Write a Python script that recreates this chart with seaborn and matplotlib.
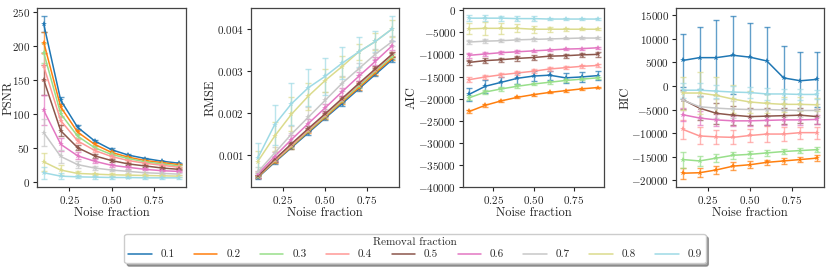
import numpy as np
import pandas as pd
import seaborn as sns
import matplotlib.pyplot as plt
from matplotlib.ticker import MultipleLocator

noise = [0.1, 0.2, 0.3, 0.4, 0.5, 0.6, 0.7, 0.8, 0.9]
removal = [0.1, 0.2, 0.3, 0.4, 0.5, 0.6, 0.7, 0.8, 0.9]

# PSNR mean / err per removal fraction
psnr = [
    [232, 120, 80, 60, 47, 39, 34, 30, 27],
    [205, 110, 73, 55, 43, 36, 31, 28, 25],
    [190, 100, 67, 50, 40, 34, 29, 26, 23],
    [170, 90, 60, 46, 37, 31, 27, 24, 21],
    [150, 75, 50, 38, 31, 26, 23, 20, 18],
    [105, 55, 38, 30, 24, 21, 18, 16, 15],
    [72, 37, 25, 20, 17, 15, 13, 12, 11],
    [29, 17, 12, 11, 10, 9.5, 9, 8.5, 8],
    [13, 8, 7, 6.5, 6, 6, 5.5, 5.5, 5.5],
]
psnr_err = [
    [12, 5, 3, 2, 2, 1.5, 1, 1, 1],
    [16, 5, 3, 2, 2, 1.5, 1, 1, 1],
    [15, 5, 3, 2, 2, 1.5, 1, 1, 1],
    [20, 6, 3, 2, 2, 1.5, 1, 1, 1],
    [22, 8, 4, 3, 2, 1.5, 1, 1, 1],
    [22, 10, 5, 3, 2, 2, 1.5, 1, 1],
    [20, 10, 5, 3, 2, 2, 1.5, 1, 1],
    [13, 8, 4, 2, 2, 1.5, 1, 1, 1],
    [9, 4, 2, 2, 1.5, 1, 1, 1, 1],
]

rmse = [
    [0.00047, 0.00083, 0.00118, 0.00153, 0.00188, 0.00222, 0.00257, 0.00292, 0.00327],
    [0.00048, 0.00085, 0.00120, 0.00156, 0.00190, 0.00226, 0.00260, 0.00296, 0.00330],
    [0.00049, 0.00087, 0.00122, 0.00158, 0.00193, 0.00229, 0.00264, 0.00300, 0.00334],
    [0.00050, 0.00088, 0.00124, 0.00160, 0.00196, 0.00232, 0.00268, 0.00303, 0.00339],
    [0.00050, 0.00090, 0.00127, 0.00163, 0.00198, 0.00234, 0.00270, 0.00305, 0.00340],
    [0.00055, 0.00097, 0.00137, 0.00175, 0.00212, 0.00250, 0.00287, 0.00323, 0.00360],
    [0.00060, 0.00105, 0.00150, 0.00190, 0.00230, 0.00270, 0.00305, 0.00340, 0.00370],
    [0.00085, 0.00145, 0.00197, 0.00240, 0.00277, 0.00310, 0.00345, 0.00370, 0.00400],
    [0.00093, 0.00172, 0.00222, 0.00260, 0.00287, 0.00318, 0.00345, 0.00370, 0.00400],
]
rmse_err = [
    [0.00003, 0.00003, 0.00004, 0.00004, 0.00004, 0.00005, 0.00005, 0.00005, 0.00005],
    [0.00003, 0.00003, 0.00004, 0.00004, 0.00004, 0.00005, 0.00005, 0.00005, 0.00005],
    [0.00003, 0.00004, 0.00004, 0.00004, 0.00005, 0.00005, 0.00005, 0.00005, 0.00005],
    [0.00004, 0.00004, 0.00005, 0.00005, 0.00005, 0.00006, 0.00006, 0.00006, 0.00006],
    [0.00004, 0.00005, 0.00005, 0.00006, 0.00006, 0.00006, 0.00006, 0.00006, 0.00006],
    [0.00008, 0.00010, 0.00010, 0.00010, 0.00010, 0.00010, 0.00010, 0.00010, 0.00010],
    [0.00012, 0.00015, 0.00020, 0.00025, 0.00020, 0.00018, 0.00015, 0.00012, 0.00012],
    [0.00025, 0.00035, 0.00040, 0.00032, 0.00027, 0.00025, 0.00020, 0.00020, 0.00020],
    [0.00035, 0.00048, 0.00050, 0.00044, 0.00044, 0.00038, 0.00035, 0.00025, 0.00030],
]

aic = [
    [-19000, -17200, -16300, -15400, -14900, -14700, -15300, -15100, -14800],
    [-22900, -21500, -20500, -19700, -19100, -18600, -18200, -17800, -17500],
    [-19800, -18500, -17800, -17200, -16700, -16300, -15900, -15600, -15300],
    [-15700, -15100, -14600, -14200, -13800, -13300, -13000, -12700, -12500],
    [-11800, -11400, -11200, -10900, -10700, -10400, -10300, -10100, -10000],
    [-10200, -9900, -9600, -9400, -9200, -9000, -8800, -8700, -8500],
    [-7200, -7000, -6900, -6700, -6600, -6500, -6400, -6300, -6300],
    [-4200, -4100, -4100, -4100, -4300, -4300, -4300, -4300, -4300],
    [-1800, -1800, -1800, -1900, -1900, -2000, -2000, -2000, -2000],
]
aic_err = [
    [1500, 1500, 1300, 1200, 1200, 1000, 1200, 1200, 1000],
    [300, 300, 250, 250, 200, 200, 200, 200, 200],
    [600, 400, 400, 400, 300, 300, 300, 300, 300],
    [600, 500, 400, 400, 400, 400, 400, 400, 400],
    [600, 600, 500, 500, 500, 500, 500, 500, 500],
    [500, 400, 300, 300, 200, 200, 200, 200, 200],
    [500, 400, 300, 300, 300, 200, 200, 200, 200],
    [1200, 1400, 1300, 900, 800, 600, 300, 200, 200],
    [700, 700, 600, 500, 500, 300, 300, 200, 200],
]

bic = [
    [5400, 6000, 6000, 6500, 6100, 5300, 1700, 1100, 1400],
    [-18500, -18400, -17800, -17000, -16700, -16200, -15900, -15600, -15300],
    [-15600, -15900, -15300, -14700, -14500, -14200, -13900, -13700, -13500],
    [-9200, -10600, -10800, -10900, -10500, -10200, -10200, -9900, -9900],
    [-2900, -4700, -5800, -6200, -6500, -6400, -6300, -6200, -6500],
    [-6100, -6800, -7200, -7400, -7400, -7300, -7200, -7200, -7100],
    [-3000, -4400, -4700, -4900, -5000, -5000, -5100, -5200, -5200],
    [-1500, -1500, -2000, -2800, -3400, -3700, -3900, -3900, -4000],
    [-900, -900, -1100, -1300, -1400, -1700, -1700, -1800, -1800],
]
bic_err = [
    [5700, 6600, 8000, 8300, 7300, 7100, 6800, 6200, 5900],
    [1200, 1000, 900, 800, 700, 600, 600, 600, 600],
    [1700, 1000, 900, 800, 700, 600, 600, 600, 600],
    [2000, 1800, 1500, 1500, 1300, 1700, 1400, 1300, 1300],
    [2000, 2500, 2200, 2000, 1800, 1800, 1700, 1600, 1600],
    [1400, 1400, 1200, 1100, 1000, 1000, 1000, 1000, 1000],
    [2000, 2200, 2000, 1800, 1600, 1500, 1400, 1400, 1400],
    [3500, 4500, 3800, 3000, 2400, 2000, 1600, 1500, 1400],
    [1600, 1500, 1400, 1300, 1200, 1200, 1100, 1100, 1000],
]

metrics = [("PSNR", psnr, psnr_err), ("RMSE", rmse, rmse_err),
           ("AIC", aic, aic_err), ("BIC", bic, bic_err)]

sns.set_style("ticks")
plt.rcParams['font.family'] = 'serif'
plt.rcParams['font.serif'] = ['cmr10', 'DejaVu Serif']
plt.rcParams['mathtext.fontset'] = 'cm'
plt.rcParams['axes.formatter.use_mathtext'] = True
plt.rcParams['font.size'] = 9
plt.rcParams['xtick.labelsize'] = 8
plt.rcParams['ytick.labelsize'] = 8
plt.rcParams['axes.edgecolor'] = '#444444'

palette = list(plt.cm.tab20(np.linspace(0, 1, 9)))

fig, axes = plt.subplots(1, 4, figsize=(8.3, 2.73), dpi=100)
lefts = [37, 251, 463, 676]
widths = [149, 148, 141, 148]
label_x = [-0.148, -0.23, -0.32, -0.30]
for ax, l, w in zip(axes, lefts, widths):
    ax.set_position([l / 830, 1 - 187 / 273, w / 830, 179 / 273])

for ax, (name, vals, errs), lx in zip(axes, metrics, label_x):
    rows = []
    for r, v, e in zip(removal, vals, errs):
        for x, y, ee in zip(noise, v, e):
            rows.append({"Noise fraction": x, name: y, "err": ee, "Removal fraction": str(r)})
    df = pd.DataFrame(rows)
    for i, r in enumerate(removal):
        sub = df[df["Removal fraction"] == str(r)]
        ax.errorbar(sub["Noise fraction"], sub[name], yerr=sub["err"], fmt='none',
                    ecolor=palette[i], elinewidth=1, capsize=2.5, alpha=0.7)
    sns.lineplot(data=df, x="Noise fraction", y=name, hue="Removal fraction",
                 palette=palette, marker='*', markersize=4, markeredgewidth=0,
                 linewidth=1.1, ax=ax, legend=(name == "PSNR"))
    ax.set_xticks([0.25, 0.5, 0.75])
    ax.tick_params(length=3, width=0.8, pad=2)
    ax.xaxis.labelpad = 1
    ax.yaxis.set_label_coords(lx, 0.5)
    for s in ax.spines.values():
        s.set_linewidth(0.9)

axes[2].set_ylim(-40000, 500)
axes[2].yaxis.set_major_locator(MultipleLocator(5000))
axes[3].yaxis.set_major_locator(MultipleLocator(5000))

handles, labels = axes[0].get_legend_handles_labels()
axes[0].get_legend().remove()
for h in handles:
    h.set_marker('')
leg = fig.legend(handles, labels, title="Removal fraction", ncol=9,
                 loc='lower center', bbox_to_anchor=(0.5, 0.015),
                 shadow=True, fancybox=True, handlelength=2.1,
                 columnspacing=1.75, frameon=True, fontsize=8, title_fontsize=8,
                 borderpad=0.35, labelspacing=0.2)

fig.savefig("out.png", dpi=100)
